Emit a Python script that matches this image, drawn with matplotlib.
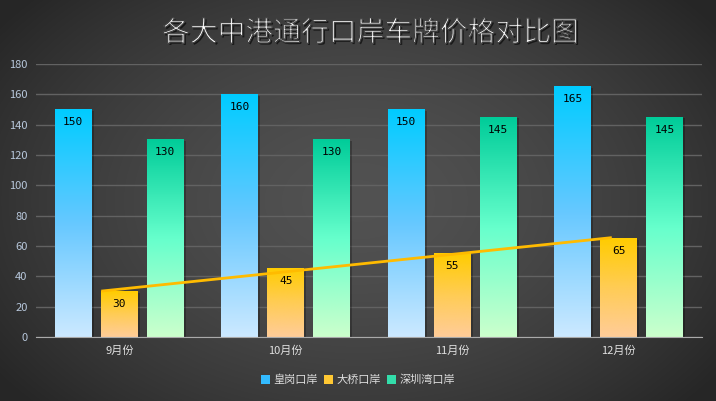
import matplotlib
matplotlib.use("Agg")
import matplotlib.pyplot as plt
import matplotlib.patheffects as pe
from matplotlib.colors import LinearSegmentedColormap
from matplotlib.patches import Patch
import numpy as np

plt.rcParams['font.family'] = ['Noto Sans CJK SC', 'DejaVu Sans']

months = ["9月份", "10月份", "11月份", "12月份"]
series_names = ["皇岗口岸", "大桥口岸", "深圳湾口岸"]
huanggang = [150, 160, 150, 165]
daqiao = [30, 45, 55, 65]
shenzhenwan = [130, 130, 145, 145]
yticks = [0, 20, 40, 60, 80, 100, 120, 140, 160, 180]

# top -> bottom gradient stops per series
grads = [
    ["#00ccff", "#66c8ff", "#cce9ff"],
    ["#ffcc00", "#ffcc55", "#ffcc99"],
    ["#00cc99", "#66ffcc", "#ccffcc"],
]
legend_cols = ["#33bbff", "#ffc833", "#33ddaa"]

W, H = 716, 401
fig = plt.figure(figsize=(W / 100, H / 100), dpi=100)

# radial background
bg = fig.add_axes([0, 0, 1, 1], zorder=-10)
yy, xx = np.mgrid[0:H, 0:W]
r = np.sqrt(((xx - W * 0.5) / (W * 0.62)) ** 2 + ((yy - H * 0.5) / (H * 0.75)) ** 2)
r = np.clip(r, 0, 1)
val = 0.32 - 0.17 * r ** 1.6
bg.imshow(np.dstack([val, val, val]), aspect="auto", extent=[0, 1, 0, 1])
bg.axis("off")

ax = fig.add_axes([36 / W, (H - 337) / H, 666 / W, 273 / H])
ax.set_facecolor("none")

x = np.arange(len(months))
width = 0.222
offsets = [-0.276, 0, 0.276]
data = [huanggang, daqiao, shenzhenwan]

for vals, off, stops, name in zip(data, offsets, grads, series_names):
    cmap = LinearSegmentedColormap.from_list(name, stops[::-1])
    bars = ax.bar(x + off, vals, width, facecolor="none", edgecolor="none", zorder=3,
                  path_effects=[pe.SimplePatchShadow(offset=(1.5, -1), shadow_rgbFace="black", alpha=0.25)])
    for b, v in zip(bars, vals):
        x0 = b.get_x()
        grad = np.linspace(0, 1, 256).reshape(-1, 1)
        ax.imshow(grad, cmap=cmap, origin="lower", aspect="auto",
                  extent=[x0, x0 + width, 0, v], zorder=3.5)
        ax.annotate(str(v), (x0 + width / 2, v), xytext=(0, -9), textcoords="offset points",
                    ha="center", va="center", fontsize=8, color="black",
                    family="DejaVu Sans Mono", zorder=5)
ax.set_xlim(-0.5, 3.5)
ax.set_ylim(0, 180)

# linear trend of 大桥口岸
k, b0 = np.polyfit(x, daqiao, 1)
tx = np.array([-0.1, 2.95])
ax.plot(tx, k * tx + b0, color="#ffbb00", lw=2, zorder=6)

ax.set_yticks(yticks)
ax.set_xticks(x)
ax.set_xticklabels(months, color="#e0e0e0", fontsize=8)
ax.tick_params(axis="y", colors="#b8c8dc", labelsize=8, length=0, pad=6)
ax.tick_params(axis="x", length=0, pad=6)
ax.grid(axis="y", color="#626262", lw=1, zorder=0)
for s in ["top", "right", "left"]:
    ax.spines[s].set_visible(False)
ax.spines["bottom"].set_color("#aaaaaa")
ax.spines["bottom"].set_zorder(7)

# thin title: fill, then erode edges with background-coloured stroke
fig.text(0.517, 1 - 33 / H, "各大中港通行口岸车牌价格对比图", ha="center", va="center",
         fontsize=20, color="white",
         path_effects=[pe.SimplePatchShadow(offset=(1.2, -1.2), shadow_rgbFace="black", alpha=0.6),
                       pe.Normal(),
                       pe.Stroke(linewidth=0.9, foreground="#3e3e3e")])

handles = [Patch(facecolor=c, edgecolor="none") for c in legend_cols]
fig.legend(handles, series_names, loc="center", bbox_to_anchor=(0.5, 1 - 380 / H), ncol=3,
           frameon=False, fontsize=8, labelcolor="#dddddd", handlelength=0.8, handleheight=0.8,
           handletextpad=0.3, columnspacing=0.6)

fig.savefig("out.png", dpi=100)
